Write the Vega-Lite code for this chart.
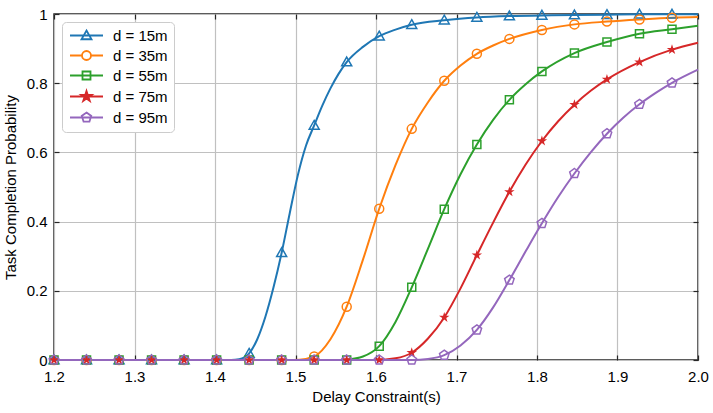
{
  "$schema": "https://vega.github.io/schema/vega-lite/v6.json",
  "width": 644,
  "height": 346,
  "autosize": {"type": "none"},
  "padding": {"left": 54, "top": 14, "right": 15, "bottom": 53},
  "background": "white",
  "config": {
    "view": {"stroke": "#262626", "strokeWidth": 1.5},
    "font": "Liberation Sans",
    "axis": {
      "labelFont": "Liberation Sans",
      "titleFont": "Liberation Sans",
      "labelColor": "#000000",
      "titleColor": "#000000",
      "labelFontSize": 15,
      "titleFontSize": 15,
      "titleFontWeight": "normal",
      "labelFlush": false,
      "domain": false,
      "tickColor": "#262626",
      "tickWidth": 1.2,
      "tickSize": -5,
      "gridColor": "#c0c0c0",
      "gridWidth": 1.2,
      "gridOpacity": 1
    },
    "legend": {
      "labelFont": "Liberation Sans",
      "labelFontSize": 15,
      "labelColor": "#000000"
    }
  },
  "datasets": {
    "lines": [
      {"x": 1.2, "p": 0, "d": "d = 15m"},
      {"x": 1.42, "p": 0, "d": "d = 15m"},
      {"x": 1.43, "p": 0.002, "d": "d = 15m"},
      {"x": 1.4424, "p": 0.019, "d": "d = 15m"},
      {"x": 1.4525, "p": 0.06, "d": "d = 15m"},
      {"x": 1.4626, "p": 0.125, "d": "d = 15m"},
      {"x": 1.4727, "p": 0.21, "d": "d = 15m"},
      {"x": 1.4828, "p": 0.31, "d": "d = 15m"},
      {"x": 1.4929, "p": 0.425, "d": "d = 15m"},
      {"x": 1.503, "p": 0.535, "d": "d = 15m"},
      {"x": 1.5131, "p": 0.62, "d": "d = 15m"},
      {"x": 1.5232, "p": 0.678, "d": "d = 15m"},
      {"x": 1.5333, "p": 0.735, "d": "d = 15m"},
      {"x": 1.5434, "p": 0.785, "d": "d = 15m"},
      {"x": 1.5535, "p": 0.827, "d": "d = 15m"},
      {"x": 1.5636, "p": 0.861, "d": "d = 15m"},
      {"x": 1.5838, "p": 0.905, "d": "d = 15m"},
      {"x": 1.604, "p": 0.936, "d": "d = 15m"},
      {"x": 1.6242, "p": 0.955, "d": "d = 15m"},
      {"x": 1.6444, "p": 0.969, "d": "d = 15m"},
      {"x": 1.6848, "p": 0.982, "d": "d = 15m"},
      {"x": 1.7253, "p": 0.99, "d": "d = 15m"},
      {"x": 1.7657, "p": 0.994, "d": "d = 15m"},
      {"x": 1.8061, "p": 0.996, "d": "d = 15m"},
      {"x": 1.8465, "p": 0.997, "d": "d = 15m"},
      {"x": 1.8869, "p": 0.998, "d": "d = 15m"},
      {"x": 1.9273, "p": 0.999, "d": "d = 15m"},
      {"x": 1.9677, "p": 0.999, "d": "d = 15m"},
      {"x": 2.0, "p": 0.999, "d": "d = 15m"},

      {"x": 1.2, "p": 0, "d": "d = 35m"},
      {"x": 1.49, "p": 0, "d": "d = 35m"},
      {"x": 1.505, "p": 0.001, "d": "d = 35m"},
      {"x": 1.5232, "p": 0.01, "d": "d = 35m"},
      {"x": 1.5434, "p": 0.06, "d": "d = 35m"},
      {"x": 1.5636, "p": 0.154, "d": "d = 35m"},
      {"x": 1.5838, "p": 0.29, "d": "d = 35m"},
      {"x": 1.604, "p": 0.437, "d": "d = 35m"},
      {"x": 1.6242, "p": 0.563, "d": "d = 35m"},
      {"x": 1.6444, "p": 0.668, "d": "d = 35m"},
      {"x": 1.6646, "p": 0.745, "d": "d = 35m"},
      {"x": 1.6848, "p": 0.807, "d": "d = 35m"},
      {"x": 1.705, "p": 0.851, "d": "d = 35m"},
      {"x": 1.7253, "p": 0.885, "d": "d = 35m"},
      {"x": 1.7455, "p": 0.909, "d": "d = 35m"},
      {"x": 1.7657, "p": 0.928, "d": "d = 35m"},
      {"x": 1.8061, "p": 0.954, "d": "d = 35m"},
      {"x": 1.8465, "p": 0.97, "d": "d = 35m"},
      {"x": 1.8869, "p": 0.978, "d": "d = 35m"},
      {"x": 1.9273, "p": 0.984, "d": "d = 35m"},
      {"x": 1.9677, "p": 0.989, "d": "d = 35m"},
      {"x": 2.0, "p": 0.991, "d": "d = 35m"},

      {"x": 1.2, "p": 0, "d": "d = 55m"},
      {"x": 1.555, "p": 0, "d": "d = 55m"},
      {"x": 1.5636, "p": 0.001, "d": "d = 55m"},
      {"x": 1.5838, "p": 0.01, "d": "d = 55m"},
      {"x": 1.604, "p": 0.04, "d": "d = 55m"},
      {"x": 1.6242, "p": 0.11, "d": "d = 55m"},
      {"x": 1.6444, "p": 0.21, "d": "d = 55m"},
      {"x": 1.6646, "p": 0.322, "d": "d = 55m"},
      {"x": 1.6848, "p": 0.436, "d": "d = 55m"},
      {"x": 1.705, "p": 0.537, "d": "d = 55m"},
      {"x": 1.7253, "p": 0.623, "d": "d = 55m"},
      {"x": 1.7455, "p": 0.694, "d": "d = 55m"},
      {"x": 1.7657, "p": 0.752, "d": "d = 55m"},
      {"x": 1.7859, "p": 0.797, "d": "d = 55m"},
      {"x": 1.8061, "p": 0.834, "d": "d = 55m"},
      {"x": 1.8465, "p": 0.887, "d": "d = 55m"},
      {"x": 1.8869, "p": 0.919, "d": "d = 55m"},
      {"x": 1.9273, "p": 0.943, "d": "d = 55m"},
      {"x": 1.9677, "p": 0.956, "d": "d = 55m"},
      {"x": 2.0, "p": 0.966, "d": "d = 55m"},

      {"x": 1.2, "p": 0, "d": "d = 75m"},
      {"x": 1.6, "p": 0, "d": "d = 75m"},
      {"x": 1.6242, "p": 0.005, "d": "d = 75m"},
      {"x": 1.6444, "p": 0.021, "d": "d = 75m"},
      {"x": 1.6646, "p": 0.062, "d": "d = 75m"},
      {"x": 1.6848, "p": 0.123, "d": "d = 75m"},
      {"x": 1.705, "p": 0.207, "d": "d = 75m"},
      {"x": 1.7253, "p": 0.303, "d": "d = 75m"},
      {"x": 1.7455, "p": 0.397, "d": "d = 75m"},
      {"x": 1.7657, "p": 0.486, "d": "d = 75m"},
      {"x": 1.7859, "p": 0.565, "d": "d = 75m"},
      {"x": 1.8061, "p": 0.633, "d": "d = 75m"},
      {"x": 1.8263, "p": 0.69, "d": "d = 75m"},
      {"x": 1.8465, "p": 0.738, "d": "d = 75m"},
      {"x": 1.8667, "p": 0.778, "d": "d = 75m"},
      {"x": 1.8869, "p": 0.811, "d": "d = 75m"},
      {"x": 1.9273, "p": 0.861, "d": "d = 75m"},
      {"x": 1.9677, "p": 0.897, "d": "d = 75m"},
      {"x": 2.0, "p": 0.917, "d": "d = 75m"},

      {"x": 1.2, "p": 0, "d": "d = 95m"},
      {"x": 1.645, "p": 0, "d": "d = 95m"},
      {"x": 1.6646, "p": 0.003, "d": "d = 95m"},
      {"x": 1.6848, "p": 0.014, "d": "d = 95m"},
      {"x": 1.705, "p": 0.042, "d": "d = 95m"},
      {"x": 1.7253, "p": 0.087, "d": "d = 95m"},
      {"x": 1.7455, "p": 0.152, "d": "d = 95m"},
      {"x": 1.7657, "p": 0.231, "d": "d = 95m"},
      {"x": 1.7859, "p": 0.314, "d": "d = 95m"},
      {"x": 1.8061, "p": 0.395, "d": "d = 95m"},
      {"x": 1.8263, "p": 0.471, "d": "d = 95m"},
      {"x": 1.8465, "p": 0.539, "d": "d = 95m"},
      {"x": 1.8667, "p": 0.6, "d": "d = 95m"},
      {"x": 1.8869, "p": 0.654, "d": "d = 95m"},
      {"x": 1.9071, "p": 0.7, "d": "d = 95m"},
      {"x": 1.9273, "p": 0.739, "d": "d = 95m"},
      {"x": 1.9475, "p": 0.772, "d": "d = 95m"},
      {"x": 1.9677, "p": 0.801, "d": "d = 95m"},
      {"x": 2.0, "p": 0.839, "d": "d = 95m"}
    ],
    "marks": [
      {"x": 1.2, "series": "d = 15m", "p": 0}, {"x": 1.2404, "series": "d = 15m", "p": 0}, {"x": 1.2808, "series": "d = 15m", "p": 0}, {"x": 1.3212, "series": "d = 15m", "p": 0}, {"x": 1.3616, "series": "d = 15m", "p": 0}, {"x": 1.402, "series": "d = 15m", "p": 0},
      {"x": 1.4424, "series": "d = 15m", "p": 0.019}, {"x": 1.4828, "series": "d = 15m", "p": 0.31}, {"x": 1.5232, "series": "d = 15m", "p": 0.678}, {"x": 1.5636, "series": "d = 15m", "p": 0.861}, {"x": 1.604, "series": "d = 15m", "p": 0.936}, {"x": 1.6444, "series": "d = 15m", "p": 0.969}, {"x": 1.6848, "series": "d = 15m", "p": 0.982}, {"x": 1.7253, "series": "d = 15m", "p": 0.99}, {"x": 1.7657, "series": "d = 15m", "p": 0.994}, {"x": 1.8061, "series": "d = 15m", "p": 0.996}, {"x": 1.8465, "series": "d = 15m", "p": 0.997}, {"x": 1.8869, "series": "d = 15m", "p": 0.998}, {"x": 1.9273, "series": "d = 15m", "p": 0.999}, {"x": 1.9677, "series": "d = 15m", "p": 0.999},

      {"x": 1.2, "series": "d = 35m", "p": 0}, {"x": 1.2404, "series": "d = 35m", "p": 0}, {"x": 1.2808, "series": "d = 35m", "p": 0}, {"x": 1.3212, "series": "d = 35m", "p": 0}, {"x": 1.3616, "series": "d = 35m", "p": 0}, {"x": 1.402, "series": "d = 35m", "p": 0}, {"x": 1.4424, "series": "d = 35m", "p": 0}, {"x": 1.4828, "series": "d = 35m", "p": 0},
      {"x": 1.5232, "series": "d = 35m", "p": 0.01}, {"x": 1.5636, "series": "d = 35m", "p": 0.154}, {"x": 1.604, "series": "d = 35m", "p": 0.437}, {"x": 1.6444, "series": "d = 35m", "p": 0.668}, {"x": 1.6848, "series": "d = 35m", "p": 0.807}, {"x": 1.7253, "series": "d = 35m", "p": 0.885}, {"x": 1.7657, "series": "d = 35m", "p": 0.928}, {"x": 1.8061, "series": "d = 35m", "p": 0.954}, {"x": 1.8465, "series": "d = 35m", "p": 0.97}, {"x": 1.8869, "series": "d = 35m", "p": 0.978}, {"x": 1.9273, "series": "d = 35m", "p": 0.984}, {"x": 1.9677, "series": "d = 35m", "p": 0.989},

      {"x": 1.2, "series": "d = 55m", "p": 0}, {"x": 1.2404, "series": "d = 55m", "p": 0}, {"x": 1.2808, "series": "d = 55m", "p": 0}, {"x": 1.3212, "series": "d = 55m", "p": 0}, {"x": 1.3616, "series": "d = 55m", "p": 0}, {"x": 1.402, "series": "d = 55m", "p": 0}, {"x": 1.4424, "series": "d = 55m", "p": 0}, {"x": 1.4828, "series": "d = 55m", "p": 0}, {"x": 1.5232, "series": "d = 55m", "p": 0}, {"x": 1.5636, "series": "d = 55m", "p": 0},
      {"x": 1.604, "series": "d = 55m", "p": 0.04}, {"x": 1.6444, "series": "d = 55m", "p": 0.21}, {"x": 1.6848, "series": "d = 55m", "p": 0.436}, {"x": 1.7253, "series": "d = 55m", "p": 0.623}, {"x": 1.7657, "series": "d = 55m", "p": 0.752}, {"x": 1.8061, "series": "d = 55m", "p": 0.834}, {"x": 1.8465, "series": "d = 55m", "p": 0.887}, {"x": 1.8869, "series": "d = 55m", "p": 0.919}, {"x": 1.9273, "series": "d = 55m", "p": 0.943}, {"x": 1.9677, "series": "d = 55m", "p": 0.956},

      {"x": 1.2, "series": "d = 75m", "p": 0}, {"x": 1.2404, "series": "d = 75m", "p": 0}, {"x": 1.2808, "series": "d = 75m", "p": 0}, {"x": 1.3212, "series": "d = 75m", "p": 0}, {"x": 1.3616, "series": "d = 75m", "p": 0}, {"x": 1.402, "series": "d = 75m", "p": 0}, {"x": 1.4424, "series": "d = 75m", "p": 0}, {"x": 1.4828, "series": "d = 75m", "p": 0}, {"x": 1.5232, "series": "d = 75m", "p": 0}, {"x": 1.5636, "series": "d = 75m", "p": 0}, {"x": 1.604, "series": "d = 75m", "p": 0},
      {"x": 1.6444, "series": "d = 75m", "p": 0.021}, {"x": 1.6848, "series": "d = 75m", "p": 0.123}, {"x": 1.7253, "series": "d = 75m", "p": 0.303}, {"x": 1.7657, "series": "d = 75m", "p": 0.486}, {"x": 1.8061, "series": "d = 75m", "p": 0.633}, {"x": 1.8465, "series": "d = 75m", "p": 0.738}, {"x": 1.8869, "series": "d = 75m", "p": 0.811}, {"x": 1.9273, "series": "d = 75m", "p": 0.861}, {"x": 1.9677, "series": "d = 75m", "p": 0.897},

      {"x": 1.2, "series": "d = 95m", "p": 0}, {"x": 1.2404, "series": "d = 95m", "p": 0}, {"x": 1.2808, "series": "d = 95m", "p": 0}, {"x": 1.3212, "series": "d = 95m", "p": 0}, {"x": 1.3616, "series": "d = 95m", "p": 0}, {"x": 1.402, "series": "d = 95m", "p": 0}, {"x": 1.4424, "series": "d = 95m", "p": 0}, {"x": 1.4828, "series": "d = 95m", "p": 0}, {"x": 1.5232, "series": "d = 95m", "p": 0}, {"x": 1.5636, "series": "d = 95m", "p": 0}, {"x": 1.604, "series": "d = 95m", "p": 0}, {"x": 1.6444, "series": "d = 95m", "p": 0},
      {"x": 1.6848, "series": "d = 95m", "p": 0.014}, {"x": 1.7253, "series": "d = 95m", "p": 0.087}, {"x": 1.7657, "series": "d = 95m", "p": 0.231}, {"x": 1.8061, "series": "d = 95m", "p": 0.395}, {"x": 1.8465, "series": "d = 95m", "p": 0.539}, {"x": 1.8869, "series": "d = 95m", "p": 0.654}, {"x": 1.9273, "series": "d = 95m", "p": 0.739}, {"x": 1.9677, "series": "d = 95m", "p": 0.801}
    ]
  },
  "layer": [
    {
      "data": {"name": "lines"},
      "mark": {"type": "line", "strokeWidth": 2, "interpolate": "monotone"},
      "encoding": {
        "x": {
          "field": "x", "type": "quantitative",
          "scale": {"domain": [1.2, 2.0], "nice": false, "zero": false},
          "axis": {"orient": "bottom", "values": [1.2, 1.3, 1.4, 1.5, 1.6, 1.7, 1.8, 1.9, 2.0], "format": ".1f", "title": "Delay Constraint(s)", "labelPadding": 14, "titlePadding": 5, "grid": true}
        },
        "y": {
          "field": "p", "type": "quantitative",
          "scale": {"domain": [0, 1], "nice": false},
          "axis": {"orient": "left", "values": [0, 0.2, 0.4, 0.6, 0.8, 1], "format": "~g", "title": "Task Completion Probability", "labelPadding": 12, "titlePadding": 8, "grid": true}
        },
        "color": {
          "field": "d", "type": "nominal",
          "scale": {"domain": ["d = 15m", "d = 35m", "d = 55m", "d = 75m", "d = 95m"], "range": ["#1f77b4", "#ff7f0e", "#2ca02c", "#d62728", "#9467bd"]},
          "legend": {
            "title": null,
            "orient": "top-left",
            "offset": 8,
            "padding": 6,
            "strokeColor": "#cccccc",
            "fillColor": "#ffffff",
            "cornerRadius": 4,
            "symbolSize": 100,
            "symbolStrokeWidth": 2,
            "symbolOffset": 11,
            "labelOffset": 19,
            "rowPadding": 3,
            "encode": {
              "symbols": {
                "update": {
                  "shape": {"signal": "datum.value === 'd = 15m' ? 'M-3.3,0L3.3,0M0,-1L1,0.75L-1,0.75Z' : datum.value === 'd = 35m' ? 'M-3.3,0L-0.9,0M0.9,0L3.3,0M0.9,0A0.9,0.9,0,1,1,-0.9,0A0.9,0.9,0,1,1,0.9,0Z' : datum.value === 'd = 55m' ? 'M-3.3,0L3.3,0M-0.8,-0.8L0.8,-0.8L0.8,0.8L-0.8,0.8Z' : datum.value === 'd = 75m' ? 'M-3.3,0L3.3,0M0,-1.1L0.245,-0.338L1.046,-0.34L0.397,0.129L0.647,0.89L0,0.418L-0.647,0.89L-0.397,0.129L-1.046,-0.34L-0.245,-0.338Z' : 'M-3.3,0L3.3,0M0,-1L0.951,-0.309L0.588,0.809L-0.588,0.809L-0.951,-0.309Z'"},
                  "fill": {"signal": "datum.value === 'd = 75m' ? '#d62728' : 'transparent'"},
                  "strokeWidth": {"value": 1.8}
                }
              }
            }
          }
        }
      }
    },
    {
      "data": {"name": "marks"},
      "transform": [{"filter": "datum.series === 'd = 15m'"}],
      "mark": {"type": "point", "filled": false, "size": 100, "strokeWidth": 1.5, "opacity": 1, "clip": false, "color": "#1f77b4", "shape": "M0,-1L1,0.75L-1,0.75Z"},
      "encoding": {
        "x": {
          "field": "x", "type": "quantitative",
          "scale": {"domain": [1.2, 2.0], "nice": false, "zero": false},
          "axis": {"orient": "top", "values": [1.2, 1.3, 1.4, 1.5, 1.6, 1.7, 1.8, 1.9, 2.0], "labels": false, "title": null, "grid": false}
        },
        "y": {
          "field": "p", "type": "quantitative",
          "scale": {"domain": [0, 1], "nice": false},
          "axis": {"orient": "right", "values": [0, 0.2, 0.4, 0.6, 0.8, 1], "labels": false, "title": null, "grid": false}
        }
      }
    },
    {
      "data": {"name": "marks"},
      "transform": [{"filter": "datum.series === 'd = 35m'"}],
      "mark": {"type": "point", "filled": false, "size": 100, "strokeWidth": 1.5, "opacity": 1, "clip": false, "color": "#ff7f0e", "shape": "M0.9,0A0.9,0.9,0,1,1,-0.9,0A0.9,0.9,0,1,1,0.9,0Z"},
      "encoding": {
        "x": {"field": "x", "type": "quantitative", "axis": null},
        "y": {"field": "p", "type": "quantitative", "axis": null}
      }
    },
    {
      "data": {"name": "marks"},
      "transform": [{"filter": "datum.series === 'd = 55m'"}],
      "mark": {"type": "point", "filled": false, "size": 100, "strokeWidth": 1.5, "opacity": 1, "clip": false, "color": "#2ca02c", "shape": "M-0.8,-0.8H0.8V0.8H-0.8Z"},
      "encoding": {
        "x": {"field": "x", "type": "quantitative", "axis": null},
        "y": {"field": "p", "type": "quantitative", "axis": null}
      }
    },
    {
      "data": {"name": "marks"},
      "transform": [{"filter": "datum.series === 'd = 75m'"}],
      "mark": {"type": "point", "filled": true, "size": 100, "strokeWidth": 1, "opacity": 1, "clip": false, "color": "#d62728", "shape": "M0,-1.1L0.245,-0.338L1.046,-0.34L0.397,0.129L0.647,0.89L0,0.418L-0.647,0.89L-0.397,0.129L-1.046,-0.34L-0.245,-0.338Z"},
      "encoding": {
        "x": {"field": "x", "type": "quantitative", "axis": null},
        "y": {"field": "p", "type": "quantitative", "axis": null}
      }
    },
    {
      "data": {"name": "marks"},
      "transform": [{"filter": "datum.series === 'd = 95m'"}],
      "mark": {"type": "point", "filled": false, "size": 100, "strokeWidth": 1.5, "opacity": 1, "clip": false, "color": "#9467bd", "shape": "M0,-1L0.951,-0.309L0.588,0.809L-0.588,0.809L-0.951,-0.309Z"},
      "encoding": {
        "x": {"field": "x", "type": "quantitative", "axis": null},
        "y": {"field": "p", "type": "quantitative", "axis": null}
      }
    }
  ],
  "resolve": {"axis": {"x": "independent", "y": "independent"}}
}
